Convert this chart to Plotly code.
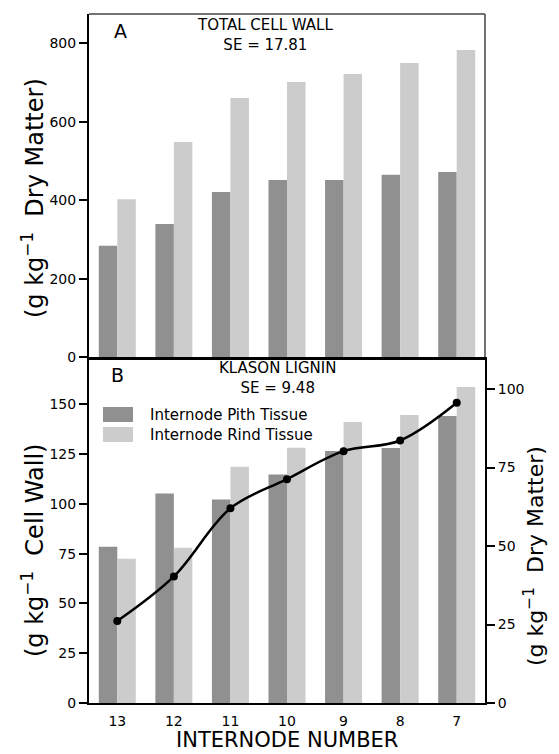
import plotly.graph_objects as go

# ---- data ----
internodes = ["13", "12", "11", "10", "9", "8", "7"]
cw_pith = [284, 340, 421, 452, 452, 465, 472]          # total cell wall, pith (g/kg DM)
cw_rind = [403, 549, 661, 702, 722, 750, 783]          # total cell wall, rind (g/kg DM)
kl_pith = [78.5, 105.2, 102.2, 114.7, 126.5, 128.0, 144.1]  # Klason lignin, pith (g/kg CW)
kl_rind = [72.5, 78.0, 118.7, 128.2, 141.1, 144.6, 158.7]   # Klason lignin, rind (g/kg CW)
kl_dm = [26.1, 40.3, 62.0, 71.3, 80.2, 83.6, 95.6]          # Klason lignin (g/kg DM), right axis

cw_ticks = [0, 200, 400, 600, 800]
kl_ticks = [0, 25, 50, 75, 100, 125, 150]
dm_ticks = [0, 25, 50, 75, 100]

PITH = "#909090"
RIND = "#cccccc"
FONT = "DejaVu Sans"

fig = go.Figure()
fig.add_trace(go.Bar(x=internodes, y=cw_pith, marker_color=PITH, marker_line_width=0,
                     name="Internode Pith Tissue", xaxis="x", yaxis="y", showlegend=False))
fig.add_trace(go.Bar(x=internodes, y=cw_rind, marker_color=RIND, marker_line_width=0,
                     name="Internode Rind Tissue", xaxis="x", yaxis="y", showlegend=False))
fig.add_trace(go.Bar(x=internodes, y=kl_pith, marker_color=PITH, marker_line_width=0,
                     name="Internode Pith Tissue", xaxis="x2", yaxis="y2", showlegend=False))
fig.add_trace(go.Bar(x=internodes, y=kl_rind, marker_color=RIND, marker_line_width=0,
                     name="Internode Rind Tissue", xaxis="x2", yaxis="y2", showlegend=False))
fig.add_trace(go.Scatter(x=internodes, y=kl_dm, mode="lines+markers", xaxis="x2", yaxis="y3",
                         line=dict(color="black", width=2.5, shape="spline", smoothing=1.0),
                         marker=dict(color="black", size=8), showlegend=False))

# The page has an 8px body margin, so the figure is drawn 8px smaller and
# its margins shifted to keep the plot area where the reference has it.
split = (703 - 357.3) / 689.0
tickfont = dict(family=FONT, size=14, color="black")

fig.update_layout(
    width=551, height=746,
    margin=dict(l=81, r=74, t=6, b=51, pad=0),
    paper_bgcolor="white", plot_bgcolor="white",
    barmode="group", bargap=0.346, bargroupgap=0,
    font=dict(family=FONT, color="black"),
    xaxis=dict(domain=[0, 1], anchor="y", type="category", range=[-0.5, 6.5],
               showticklabels=False, ticks="", showgrid=False, zeroline=False,
               showline=True, linecolor="black", linewidth=2.5),
    yaxis=dict(domain=[split, 1], anchor="x", range=[0, 875], tickvals=cw_ticks,
               ticks="outside", ticklen=8, tickwidth=2, tickcolor="black",
               tickfont=tickfont, showgrid=False, zeroline=False,
               showline=True, linecolor="black", linewidth=2),
    xaxis2=dict(domain=[0, 1], anchor="y2", type="category", range=[-0.5, 6.5],
                matches="x", ticks="outside", ticklen=4, tickcolor="rgba(0,0,0,0)",
                tickfont=tickfont, showgrid=False, zeroline=False,
                showline=True, linecolor="black", linewidth=2),
    yaxis2=dict(domain=[0, split], anchor="x2", range=[0, 173.6], tickvals=kl_ticks,
                ticks="outside", ticklen=8, tickwidth=2, tickcolor="black",
                tickfont=tickfont, showgrid=False, zeroline=False,
                showline=True, linecolor="black", linewidth=2),
    yaxis3=dict(domain=[0, split], anchor="x2", overlaying="y2", side="right",
                range=[0, 110.1], tickvals=dm_ticks,
                ticks="outside", ticklen=8, tickwidth=2, tickcolor="black",
                tickfont=tickfont, showgrid=False, zeroline=False,
                showline=True, linecolor="black", linewidth=2),
)

shapes = [
    # top panel frame (top and right edges)
    dict(type="line", xref="x domain", yref="y domain", x0=0, x1=1, y0=1, y1=1,
         line=dict(color="#444444", width=1.5)),
    dict(type="line", xref="x domain", yref="y domain", x0=1, x1=1, y0=0, y1=1,
         line=dict(color="#444444", width=1.5)),
]


def px(X):
    return (X - 89) / 396.0


def py(Y):
    return (703 - Y) / 689.0


# legend swatches
for (y0, y1, col) in [(407, 422, PITH), (427, 442, RIND)]:
    shapes.append(dict(type="rect", xref="paper", yref="paper",
                       x0=px(103), x1=px(133), y0=py(y1), y1=py(y0),
                       fillcolor=col, line=dict(width=0)))
fig.update_layout(shapes=shapes)

ann = []


def add(text, X, Y, size, xanchor="center", angle=0):
    ann.append(dict(text=text, x=px(X), y=py(Y), xref="paper", yref="paper",
                    showarrow=False, xanchor=xanchor, yanchor="middle", textangle=angle,
                    align="center",
                    font=dict(family=FONT, size=size, color="black")))


add("A", 120, 31.5, 19)
add("TOTAL CELL WALL<br>SE = 17.81", 265, 35, 15)
add("B", 117, 375, 19)
add("KLASON LIGNIN<br>SE = 9.48", 277, 378, 15)
add("Internode Pith Tissue", 148, 414.5, 15, xanchor="left")
add("Internode Rind Tissue", 148, 434.5, 15, xanchor="left")
add("(g kg<sup>−1</sup>  Dry Matter)", 33, 198, 24, angle=-90)
add("(g kg<sup>−1</sup>  Cell Wall)", 33, 551, 24, angle=-90)
add("(g kg<sup>−1</sup>  Dry Matter)", 534, 556, 22, angle=-90)
add("INTERNODE NUMBER", 287, 740, 21)
fig.update_layout(annotations=ann)

fig.write_html("out.html")
